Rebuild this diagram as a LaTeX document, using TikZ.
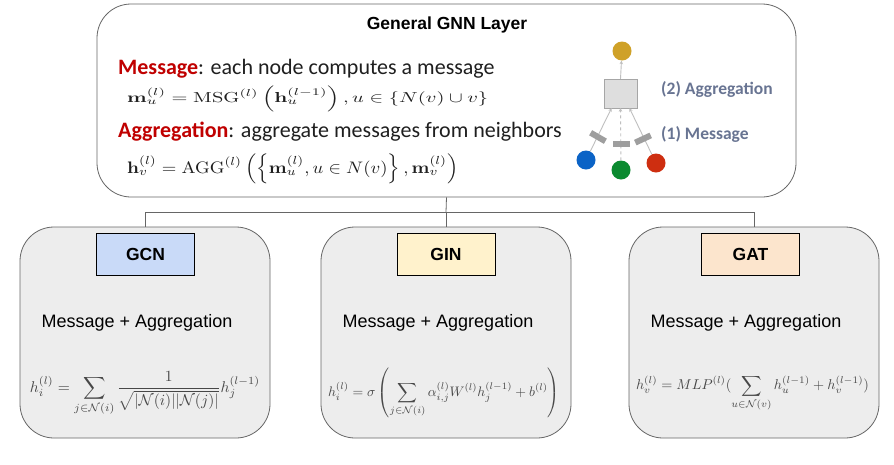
\documentclass[tikz,border=0pt]{standalone}
\usepackage[no-math]{fontspec}
\setmainfont{Liberation Sans}
\newfontfamily\calibri{Carlito}
\usepackage{amsmath,amssymb}
\usepackage{graphicx}
\usetikzlibrary{arrows.meta}
\definecolor{gcnfill}{HTML}{C9DAF8}
\definecolor{ginfill}{HTML}{FFF2CC}
\definecolor{gatfill}{HTML}{FCE5CD}
\definecolor{msgred}{HTML}{C00000}
\definecolor{lblcol}{RGB}{104,116,146}
\definecolor{goldc}{HTML}{CFA128}
\definecolor{bluec}{HTML}{0B63C6}
\definecolor{greenc}{HTML}{0B8A30}
\definecolor{redc}{HTML}{CE2E10}
\begin{document}
\begin{tikzpicture}[x=1pt,y=-1pt,
  topbox/.style={draw=black!60, line width=0.8pt, fill=white, rounded corners=34pt, minimum width=699pt, minimum height=193pt, inner sep=0pt},
  panel/.style={draw=black!60, line width=0.8pt, fill=black!7, rounded corners=34pt, minimum width=250pt, minimum height=211pt, inner sep=0pt},
  tag/.style={draw=black, line width=0.8pt, minimum width=98pt, minimum height=42pt, inner sep=0pt, font=\fontsize{17.5}{20}\selectfont\bfseries},
  mtext/.style={font=\fontsize{18}{21}\selectfont, inner sep=0pt},
  formula/.style={inner sep=0pt, text=black!72},
  link/.style={draw=black!60, line width=0.8pt},
  dot/.style={circle, minimum size=19pt, inner sep=0pt},
  msgbar/.style={fill=black!38, minimum width=17pt, minimum height=6pt, inner sep=0pt},
  flow/.style={draw=black!25, line width=0.9pt, -{Stealth[length=3.5pt,width=3.5pt]}},
  lbl/.style={font=\calibri\bfseries\fontsize{17.5}{20}\selectfont, text=lblcol, anchor=west, inner sep=0pt},
  ttext/.style={font=\calibri\fontsize{22}{26}\selectfont, text=black!88, anchor=west, inner sep=0pt},
  tmath/.style={anchor=west, inner sep=0pt, text=black!88}
]
\useasboundingbox[fill=white] (0,0) rectangle (894,464);

% top box
\node[topbox] (top) at (446.5,100.5) {};
\node[font=\fontsize{17.5}{20}\selectfont\bfseries, inner sep=0pt] (title) at (447,25) {General GNN Layer};
\node[ttext] (l1) at (118,69) {\textcolor{msgred}{\bfseries Message}: each node computes a message};
\node[tmath] (f1) at (127,99) {\resizebox*{361pt}{26pt}{$\mathbf{m}_u^{(l)} = \mathrm{MSG}^{(l)}\left(\mathbf{h}_u^{(l-1)}\right), u \in \{N(v) \cup v\}$}};
\node[ttext] (l2) at (118,132) {\textcolor{msgred}{\bfseries Aggregation}: aggregate messages from neighbors};
\node[tmath] (f2) at (127,169) {\resizebox*{331pt}{30pt}{$\mathbf{h}_v^{(l)} = \mathrm{AGG}^{(l)}\left(\left\{\mathbf{m}_u^{(l)}, u \in N(v)\right\}, \mathbf{m}_v^{(l)}\right)$}};

% small diagram
\node[dot, fill=goldc] (gold) at (622,51) {};
\node[draw=black!35, fill=black!13, minimum width=33pt, minimum height=29pt, inner sep=0pt] (agg) at (620.5,93.5) {};
\node[dot, fill=bluec] (blue) at (586,160) {};
\node[dot, fill=greenc] (green) at (621,170) {};
\node[dot, fill=redc] (red) at (656,163) {};
\draw[flow] (agg.north) -- (gold);
\draw[flow] (blue) -- ([xshift=-9pt]agg.south);
\draw[flow, dashed] (green) -- (agg.south);
\draw[flow] (red) -- ([xshift=9pt]agg.south);
\node[msgbar, rotate=-30] (mb1) at (598,137) {};
\node[msgbar] (mb2) at (621,144) {};
\node[msgbar, rotate=25] (mb3) at (643,139) {};
\node[lbl] (aggl) at (661,89) {(2) Aggregation};
\node[lbl] (msgl) at (661,134) {(1) Message};

% bottom panels
\node[panel] (gcn) at (145,332.5) {};
\node[panel] (gin) at (446,332.5) {};
\node[panel] (gat) at (754,332.5) {};
\node[tag, fill=gcnfill] (gcnt) at (145.5,254.5) {GCN};
\node[tag, fill=ginfill] (gint) at (446,254.5) {GIN};
\node[tag, fill=gatfill] (gatt) at (750.5,254.5) {GAT};
\node[mtext] (gcnm) at (137,323) {Message + Aggregation};
\node[mtext] (ginm) at (438,323) {Message + Aggregation};
\node[mtext] (gatm) at (746,323) {Message + Aggregation};

\node[formula] (gcnf) at (145,394) {\resizebox{230pt}{!}{$\displaystyle h_i^{(l)} = \sum_{j\in\mathcal{N}(i)} \frac{1}{\sqrt{|\mathcal{N}(i)||\mathcal{N}(j)|}}h_j^{(l-1)}$}};
\node[formula] (ginf) at (444,393) {\resizebox{232pt}{!}{$\displaystyle h_i^{(l)} = \sigma\left(\sum_{j\in\mathcal{N}(i)} \alpha_{i,j}^{(l)} W^{(l)} h_j^{(l-1)} + b^{(l)}\right)$}};
\node[formula] (gatf) at (752.5,393) {\resizebox{233pt}{!}{$\displaystyle h_v^{(l)} = MLP^{(l)}(\sum_{u\in\mathcal{N}(v)} h_u^{(l-1)} + h_v^{(l-1)})$}};

% connectors
\coordinate (j) at (446,212);
\draw[link] (top.south) -- (j);
\draw[link] (j) -| (gcn.north);
\draw[link] (j) -- (gin.north);
\draw[link] (j) -| (gat.north);
\end{tikzpicture}
\end{document}
